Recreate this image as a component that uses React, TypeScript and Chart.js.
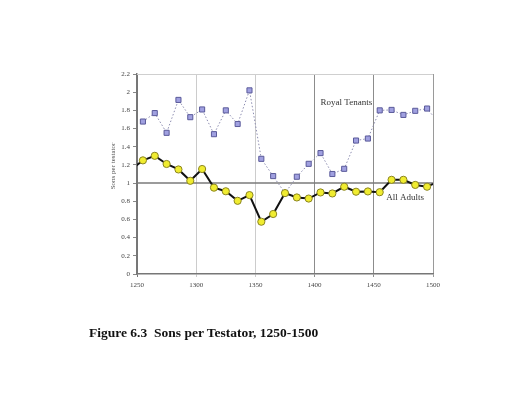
import React, { useEffect, useRef } from "react";
import { Chart, registerables } from "chart.js";

Chart.register(...registerables);

const allAdultYears = [1245, 1255, 1265, 1275, 1285, 1295, 1305, 1315, 1325, 1335, 1345, 1355, 1365, 1375, 1385, 1395, 1405, 1415, 1425, 1435, 1445, 1455, 1465, 1475, 1485, 1495, 1505];
const allAdultValues = [1.15, 1.25, 1.3, 1.21, 1.15, 1.025, 1.155, 0.95, 0.91, 0.805, 0.868, 0.575, 0.66, 0.89, 0.842, 0.83, 0.897, 0.886, 0.96, 0.905, 0.908, 0.9, 1.036, 1.036, 0.98, 0.96, 1.02];

const royalYears = [1255, 1265, 1275, 1285, 1295, 1305, 1315, 1325, 1335, 1345, 1355, 1365, 1375, 1385, 1395, 1405, 1415, 1425, 1435, 1445, 1455, 1465, 1475, 1485, 1495, 1505];
const royalValues = [1.677, 1.77, 1.553, 1.915, 1.725, 1.81, 1.538, 1.8, 1.65, 2.02, 1.267, 1.077, 0.89, 1.07, 1.212, 1.33, 1.1, 1.157, 1.468, 1.49, 1.8, 1.805, 1.75, 1.795, 1.82, 1.66];

const xTicks = [1250, 1300, 1350, 1400, 1450, 1500];
const yMax = 2.2;
const royalLabel = "Royal Tenants";
const adultLabel = "All Adults";
const yTitle = "Sons per testator";
const caption = "Figure 6.3  Sons per Testator, 1250-1500";

const SERIF = "'Liberation Serif', 'DejaVu Serif', serif";

const extras = {
  id: "extras",
  beforeDatasetsDraw(chart: any) {
    const { ctx, chartArea, scales } = chart;
    const y1 = scales.y.getPixelForValue(1);
    ctx.save();
    ctx.strokeStyle = "#cfcfcf";
    ctx.lineWidth = 1;
    ctx.beginPath();
    ctx.moveTo(chartArea.left, chartArea.top + 0.5);
    ctx.lineTo(chartArea.right, chartArea.top + 0.5);
    ctx.stroke();
    ctx.strokeStyle = "#7a7a7a";
    ctx.lineWidth = 1.5;
    ctx.beginPath();
    ctx.moveTo(chartArea.left, y1);
    ctx.lineTo(chartArea.right, y1);
    ctx.stroke();
    ctx.restore();
  },
  afterDraw(chart: any) {
    const { ctx, scales } = chart;
    ctx.save();
    ctx.fillStyle = "#333";
    ctx.font = `9px ${SERIF}`;
    ctx.textBaseline = "middle";
    ctx.textAlign = "left";
    ctx.fillText(royalLabel, scales.x.getPixelForValue(1405), scales.y.getPixelForValue(1.88));
    ctx.fillText(adultLabel, scales.x.getPixelForValue(1460.5), scales.y.getPixelForValue(0.84));
    ctx.translate(113, 166);
    ctx.rotate(-Math.PI / 2);
    ctx.textAlign = "center";
    ctx.fillStyle = "#555";
    ctx.font = `7px ${SERIF}`;
    ctx.fillText(yTitle, 0, 0);
    ctx.restore();
  },
};

export default function App() {
  const ref = useRef<HTMLCanvasElement>(null);
  useEffect(() => {
    if (!ref.current) return;
    const chart = new Chart(ref.current, {
      type: "line",
      data: {
        datasets: [
          {
            label: royalLabel,
            order: 1,
            data: royalYears.map((x, i) => ({ x, y: royalValues[i] })),
            borderColor: "#8c8cb0",
            borderWidth: 1,
            borderDash: [1.5, 2],
            pointStyle: "rect",
            pointRadius: (c: any) => (c.raw && (c.raw.x < 1250 || c.raw.x > 1500) ? 0 : 3.6),
            pointBackgroundColor: "#a0a0e0",
            pointBorderColor: "#5a5a9a",
            pointBorderWidth: 1,
            tension: 0,
          },
          {
            label: adultLabel,
            order: 0,
            data: allAdultYears.map((x, i) => ({ x, y: allAdultValues[i] })),
            borderColor: "#111",
            borderWidth: 2,
            pointStyle: "circle",
            pointRadius: (c: any) => (c.raw && (c.raw.x < 1250 || c.raw.x > 1500) ? 0 : 3.6),
            pointBackgroundColor: "#f0ec30",
            pointBorderColor: "#8a8420",
            pointBorderWidth: 1,
            tension: 0,
          },
        ],
      },
      options: {
        responsive: false,
        animation: false,
        devicePixelRatio: 1,
        layout: { padding: { left: 0, right: 92, top: 74, bottom: 100 } },
        plugins: { legend: { display: false }, tooltip: { enabled: false } },
        scales: {
          x: {
            type: "linear",
            min: 1250,
            max: 1500,
            afterFit: (s: any) => {
              s.height = 20;
            },
            afterBuildTicks: (s: any) => {
              s.ticks = xTicks.map((v) => ({ value: v }));
            },
            ticks: {
              font: { family: SERIF, size: 7 },
              color: "#444",
              padding: 4,
              maxRotation: 0,
              autoSkip: false,
              callback: (v: any) => String(v),
            },
            grid: {
              color: (c: any) =>
                c.tick && (c.tick.value === 1400 || c.tick.value === 1450)
                  ? "#8c8c8c"
                  : c.tick && c.tick.value === 1500
                  ? "#9a9a9a"
                  : c.tick && c.tick.value === 1250
                  ? "#777"
                  : "#cccccc",
              tickLength: 3,
              lineWidth: 1,
            },
            border: { color: "#777", width: 1.5 },
          },
          y: {
            min: 0,
            max: yMax,
            afterFit: (s: any) => {
              s.width = 137;
            },
            ticks: {
              stepSize: 0.2,
              font: { family: SERIF, size: 7 },
              color: "#444",
              padding: 3,
              callback: (v: any) => String(Math.round(Number(v) * 10) / 10),
            },
            grid: { drawOnChartArea: false, color: "#888", tickLength: 4 },
            border: { color: "#777", width: 1.5 },
          },
        },
      },
      plugins: [extras],
    });
    return () => chart.destroy();
  }, []);
  return (
    <div style={{ position: "absolute", left: 0, top: 0, width: 525, height: 394, background: "#fff" }}>
      <canvas ref={ref} width={525} height={394} style={{ width: 525, height: 394, display: "block" }} />
      <div
        style={{
          position: "absolute",
          left: 89,
          top: 325,
          fontFamily: SERIF,
          fontWeight: "bold",
          fontSize: 13.5,
          color: "#111",
          whiteSpace: "pre",
          lineHeight: "16px",
        }}
      >
        {caption}
      </div>
    </div>
  );
}
